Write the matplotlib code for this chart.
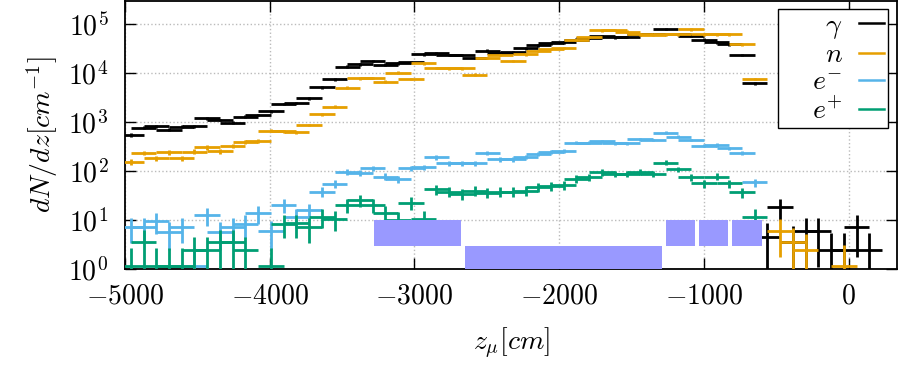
import numpy as np
import matplotlib
matplotlib.use("Agg")
import matplotlib.pyplot as plt
from matplotlib.lines import Line2D
from matplotlib.ticker import LogLocator

plt.rcParams['font.family'] = 'serif'
plt.rcParams['font.serif'] = ['cmr10']
plt.rcParams['mathtext.fontset'] = 'cm'
plt.rcParams['axes.formatter.use_mathtext'] = True

nan = np.nan

# bins: centres every 88 cm, each bar spans +-88 cm (two interleaved histograms)
z_first = -4960
z_step = 88
half_width = 88

# dN/dz per species (nan = empty bin)
gamma = [543, 765, 815, 700, 803, 826, 1190, 1100, 975, 1285,
         1390, 1650, 2320, 2450, 3040, 5090, 7430, 13450, 15000, 17500,
         14800, 15700, 16500, 24000, 25200, 23300, 23500, 20500, 28600, 25600,
         26500, 31800, 36500, 40300, 42500, 48000, 52000, 56000, 53500, 55000,
         61600, 63000, 78500, 63000, 57000, 48000, 42300, 38500, 23300, 6150,
         4.6, 18.7, 3.6, 6.0, 6.0, 2.4, 2.4, 7.1, 2.4]
neutron = [155, 235, 182, 240, 182, 248, 304, 255, 330, 390,
           410, 660, 650, 620, 870, 1440, 2050, 5050, 7800, 8000,
           6650, 10200, 7500, 15800, 12600, 12500, 12500, 9300, 20500, 23300,
           17600, 24000, 28000, 31000, 32500, 47000, 54000, 74000, 76000, 69600,
           62000, 61000, 62000, 62000, 78000, 62000, 61600, 61600, 38500, 7550,
           nan, 6.0, 3.6, 2.4, nan, nan, 1.17, nan, nan]
e_minus = [7.1, 7.1, 9.7, 5.8, 7.1, 1.15, 12.6, 5.8, 7.1, 8.3,
           13.7, 6.0, 20, 11.7, 16, 37.8, 55, 95, 92, 113,
           76.6, 67.6, 113, 118, 190, 143, 143, 143, 230, 173,
           173, 196, 219, 248, 260, 380, 378, 410, 367, 367,
           443, 430, 605, 500, 430, 329, 340, 290, 230, 58.8]
e_plus = [1.15, 3.5, 1.15, 1.15, 1.15, 2.4, 2.4, 3.6, 3.6, 2.4,
          nan, 1.15, 8.3, 8.5, 7.1, 11.7, 10.5, 20, 25.6, 20,
          14.1, 10, 22.6, 10.5, 42, 37.8, 34, 39.6, 36, 37.8,
          37.8, 39.6, 47.9, 50, 51.8, 70, 74, 94, 88, 88,
          97, 87, 148, 108, 74, 56, 76.6, 56, 36.7, 11.7]

labels = [r'$\quad\;\gamma$', r'$\quad\;n$', r'$\quad\;e^{-}$', r'$\quad\;e^{+}$']
colors = ['#000000', '#E69F00', '#56B4E9', '#009E73']
weights = [4, 3, 2, 2]   # rough count weight per entry, for the error bars

# shaded z ranges
rect_start = [-3280, -2650, -1260, -1035, -805]
rect_end = [-2680, -1290, -1060, -830, -600]
rect_low = [3, 1, 3, 3, 3]
rect_high = [10, 3, 10, 10, 10]

fig = plt.figure(figsize=(8.98, 3.67), dpi=100)
ax = fig.add_axes([125 / 898, 1 - 269 / 367, 772 / 898, 268 / 367])
ax.set_yscale('log')

for vals, c, w in zip([gamma, neutron, e_minus, e_plus], colors, weights):
    v = np.array(vals, dtype=float)
    z = z_first + z_step * np.arange(len(v))
    err = np.maximum(np.sqrt(v * w), 0.06 * v)
    lo = np.minimum(err, 0.99 * v)
    ax.errorbar(z, v, xerr=half_width, yerr=[lo, err], fmt='none',
                ecolor=c, elinewidth=2.0, capsize=0, zorder=3)

ax.bar(rect_start, np.array(rect_high) - np.array(rect_low),
       width=np.array(rect_end) - np.array(rect_start), bottom=rect_low,
       align='edge', color='#9999ff', lw=0, zorder=5)

ax.set_xlim(-5000, 335)
ax.set_ylim(1, 2.95e5)
ax.set_xticks([-5000, -4000, -3000, -2000, -1000, 0])
ax.yaxis.set_major_locator(LogLocator(base=10, numticks=12))
ax.grid(True, which='major', color='#bbbbbb', ls=':', lw=1)
ax.tick_params(which='both', direction='in', top=True, right=True,
               labelsize=20, width=1)
ax.tick_params(which='major', length=8)
ax.tick_params(which='minor', length=4)
ax.tick_params(axis='x', pad=10)
ax.tick_params(axis='y', pad=12)
for s in ax.spines.values():
    s.set_linewidth(1.3)

ax.set_xlabel(r'$z_{\mu}[cm]$', fontsize=20, labelpad=12)
ax.set_ylabel(r'$dN/dz[cm^{-1}]$', fontsize=20, labelpad=6)

handles = [Line2D([], [], color=c, lw=1.8) for c in colors]
leg = ax.legend(handles, labels, loc='upper right', bbox_to_anchor=(0.988, 0.97),
                markerfirst=False, fontsize=20, handlelength=0.9,
                handletextpad=0.6, labelspacing=0.05, borderpad=0.12,
                borderaxespad=0, fancybox=False, framealpha=1,
                edgecolor='black')
leg.get_frame().set_linewidth(1)
leg.set_zorder(10)

fig.savefig('out.png', dpi=100)
